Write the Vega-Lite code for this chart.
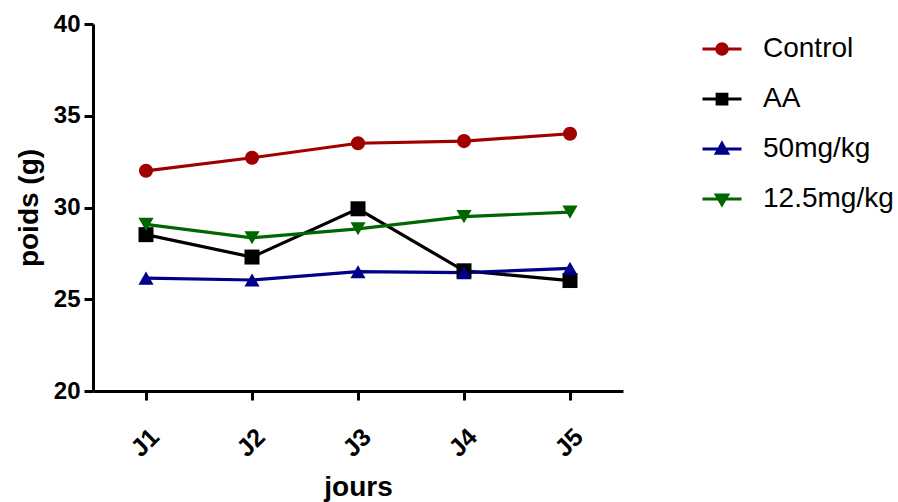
{
  "$schema": "https://vega.github.io/schema/vega-lite/v6.json",
  "width": 530,
  "height": 367,
  "autosize": {"type": "none"},
  "padding": {"left": 93, "top": 24, "right": 275, "bottom": 111},
  "config": {
    "view": {"stroke": null},
    "font": "Liberation Sans",
    "axis": {
      "grid": false,
      "domainColor": "black",
      "domainWidth": 3,
      "tickColor": "black",
      "tickWidth": 3,
      "tickSize": 9,
      "labelColor": "black",
      "labelFont": "Liberation Sans",
      "labelFontWeight": "bold",
      "labelFontSize": 24,
      "titleFont": "Liberation Sans",
      "titleFontWeight": "bold",
      "titleColor": "black"
    },
    "legend": {
      "title": null,
      "orient": "none",
      "legendX": 615,
      "legendY": 11,
      "symbolSize": 225,
      "symbolOpacity": 1,
      "symbolStrokeWidth": 3,
      "labelFont": "Liberation Sans",
      "labelFontSize": 28,
      "labelColor": "black",
      "labelOffset": 27,
      "rowPadding": 22
    }
  },
  "data": {
    "values": [
      {"jour": "J1", "group": "Control", "poids": 32.0},
      {"jour": "J2", "group": "Control", "poids": 32.71},
      {"jour": "J3", "group": "Control", "poids": 33.5},
      {"jour": "J4", "group": "Control", "poids": 33.62},
      {"jour": "J5", "group": "Control", "poids": 34.02},
      {"jour": "J1", "group": "AA", "poids": 28.52},
      {"jour": "J2", "group": "AA", "poids": 27.3},
      {"jour": "J3", "group": "AA", "poids": 29.93},
      {"jour": "J4", "group": "AA", "poids": 26.55},
      {"jour": "J5", "group": "AA", "poids": 26.02},
      {"jour": "J1", "group": "50mg/kg", "poids": 26.15},
      {"jour": "J2", "group": "50mg/kg", "poids": 26.05},
      {"jour": "J3", "group": "50mg/kg", "poids": 26.5},
      {"jour": "J4", "group": "50mg/kg", "poids": 26.45},
      {"jour": "J5", "group": "50mg/kg", "poids": 26.68},
      {"jour": "J1", "group": "12.5mg/kg", "poids": 29.08},
      {"jour": "J2", "group": "12.5mg/kg", "poids": 28.35},
      {"jour": "J3", "group": "12.5mg/kg", "poids": 28.84},
      {"jour": "J4", "group": "12.5mg/kg", "poids": 29.5},
      {"jour": "J5", "group": "12.5mg/kg", "poids": 29.75}
    ]
  },
  "encoding": {
    "x": {
      "field": "jour",
      "type": "ordinal",
      "scale": {"type": "point", "padding": 0.5},
      "axis": {"labelAngle": -45, "title": "jours", "titleFontSize": 28, "titlePadding": 12, "labelPadding": 24, "labelFontSize": 25}
    },
    "y": {
      "field": "poids",
      "type": "quantitative",
      "scale": {"domain": [20, 40], "nice": false, "zero": false},
      "axis": {"values": [20, 25, 30, 35, 40], "title": "poids (g)", "titleFontSize": 28, "titlePadding": 10, "labelPadding": 4, "labelFlush": false, "labelOverlap": false}
    }
  },
  "layer": [
    {"mark": {"type": "line", "strokeWidth": 3.2},
     "encoding": {"color": {"field": "group", "type": "nominal", "title": null, "scale": {"domain": ["Control", "AA", "50mg/kg", "12.5mg/kg"], "range": ["#A00000", "#000000", "#000088", "#006600"]}}}},
    {"transform": [{"filter": "datum.group === 'Control'"}], "mark": {"type": "point", "shape": "circle", "filled": true, "opacity": 1, "size": 200, "color": "#A00000"}},
    {"transform": [{"filter": "datum.group === 'AA'"}], "mark": {"type": "point", "shape": "square", "filled": true, "opacity": 1, "size": 225, "color": "#000000"}},
    {"transform": [{"filter": "datum.group === '50mg/kg'"}], "mark": {"type": "point", "shape": "triangle-up", "filled": true, "opacity": 1, "size": 230, "color": "#000088"}},
    {"transform": [{"filter": "datum.group === '12.5mg/kg'"}], "mark": {"type": "point", "shape": "triangle-down", "filled": true, "opacity": 1, "size": 230, "color": "#006600"}},
    {
      "transform": [{"filter": "datum.group === 'none'"}],
      "mark": {"type": "point", "filled": true},
      "encoding": {
        "color": {"field": "group", "type": "nominal", "title": null},
        "shape": {
          "field": "group",
          "type": "nominal",
          "title": null,
          "scale": {
            "domain": ["Control", "AA", "50mg/kg", "12.5mg/kg"],
            "range": [
              "M-2.6,0H2.6M0.7,0A0.7,0.7,0,1,1,-0.7,0A0.7,0.7,0,1,1,0.7,0Z",
              "M-2.6,0H2.6M-0.65,-0.65H0.65V0.65H-0.65Z",
              "M-2.6,0H2.6M0,-0.75L0.75,0.55H-0.75Z",
              "M-2.6,0H2.6M0,0.75L0.75,-0.55H-0.75Z"
            ]
          }
        }
      }
    }
  ]
}
